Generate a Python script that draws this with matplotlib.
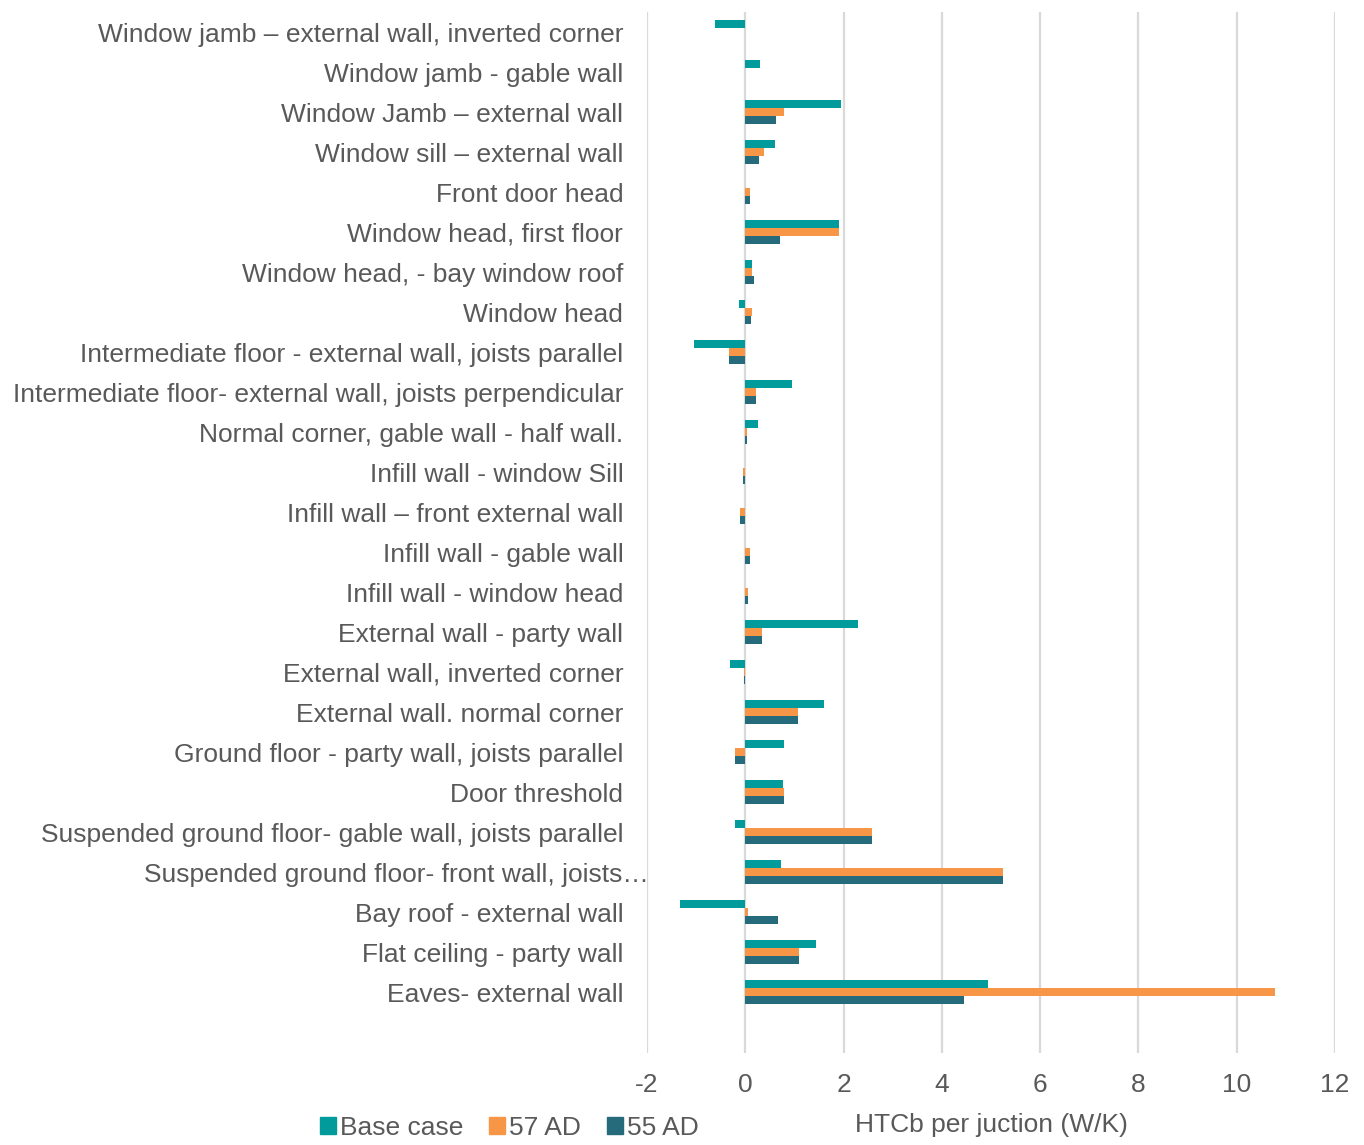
import numpy as np
import matplotlib.pyplot as plt
from matplotlib.patches import Patch
from matplotlib.transforms import ScaledTranslation

plt.rcParams['font.family'] = ['Liberation Sans', 'DejaVu Sans']
plt.rcParams['axes.unicode_minus'] = False

junctions = [
    'Window jamb – external wall, inverted corner',
    'Window jamb - gable wall',
    'Window Jamb – external wall',
    'Window sill – external wall',
    'Front door head',
    'Window head, first floor',
    'Window head, - bay window roof',
    'Window head',
    'Intermediate floor - external wall, joists parallel',
    'Intermediate floor- external wall, joists perpendicular',
    'Normal corner, gable wall - half wall.',
    'Infill wall - window Sill',
    'Infill wall – front external wall',
    'Infill wall - gable wall',
    'Infill wall - window head',
    'External wall - party wall',
    'External wall, inverted corner',
    'External wall. normal corner',
    'Ground floor - party wall, joists parallel',
    'Door threshold',
    'Suspended ground floor- gable wall, joists parallel',
    'Suspended ground floor- front wall, joists…',
    'Bay roof - external wall',
    'Flat ceiling - party wall',
    'Eaves- external wall',
]

base_case = [-0.61, 0.31, 1.94, 0.60, 0.0, 1.90, 0.13, -0.12, -1.04, 0.96,
             0.26, 0.0, 0.0, 0.0, 0.0, 2.30, -0.32, 1.60, 0.79, 0.77,
             -0.21, 0.72, -1.32, 1.44, 4.95]
ad_57 = [0.0, 0.0, 0.79, 0.38, 0.10, 1.90, 0.13, 0.13, -0.33, 0.22,
         0.04, -0.04, -0.10, 0.09, 0.06, 0.35, -0.03, 1.08, -0.20, 0.79,
         2.57, 5.24, 0.06, 1.09, 10.78]
ad_55 = [0.0, 0.0, 0.63, 0.28, 0.10, 0.70, 0.17, 0.12, -0.33, 0.22,
         0.04, -0.04, -0.10, 0.09, 0.06, 0.35, -0.03, 1.08, -0.20, 0.79,
         2.57, 5.24, 0.67, 1.09, 4.46]

series = [('Base case', base_case, '#009B9A'),
          ('57 AD', ad_57, '#F79646'),
          ('55 AD', ad_55, '#266B7C')]

txt = '#595959'
fs = 19
fig = plt.figure(figsize=(13.64, 11.45), dpi=100)
ax = fig.add_axes([0.4743, 0.0803, 0.5044, 0.909])

y = np.arange(len(junctions))
h = 0.2
for k, (name, vals, col) in enumerate(series):
    ax.barh(y + (k - 1) * h, vals, height=h, color=col, label=name, zorder=3)

ax.set_xlim(-2, 12)
ax.set_ylim(25.525, -0.5)
ax.set_xticks(np.arange(-2, 13, 2))
ax.set_yticks(y)
ax.set_yticklabels(junctions)
ax.grid(axis='x', color='#D9D9D9', linewidth=1.6, zorder=0)
for s in ax.spines.values():
    s.set_visible(False)
ax.tick_params(axis='y', length=0, pad=17, labelsize=fs, labelcolor=txt)
ax.tick_params(axis='x', length=0, pad=14, labelsize=fs, labelcolor=txt)

# the truncated label sits a little further right
lab = ax.get_yticklabels()[21]
lab.set_transform(lab.get_transform() + ScaledTranslation(0.25, 0, fig.dpi_scale_trans))

ax.set_xlabel('HTCb per juction (W/K)', fontsize=fs, color=txt, labelpad=12)

handles = [Patch(color=c, label=n) for n, _, c in series]
fig.legend(handles=handles, loc='lower left', bbox_to_anchor=(0.217, -0.016),
           ncol=3, frameon=False, fontsize=fs, labelcolor=txt,
           handlelength=0.6, handleheight=0.6, handletextpad=0.15,
           columnspacing=1.0)

fig.savefig('out.png', dpi=100)
